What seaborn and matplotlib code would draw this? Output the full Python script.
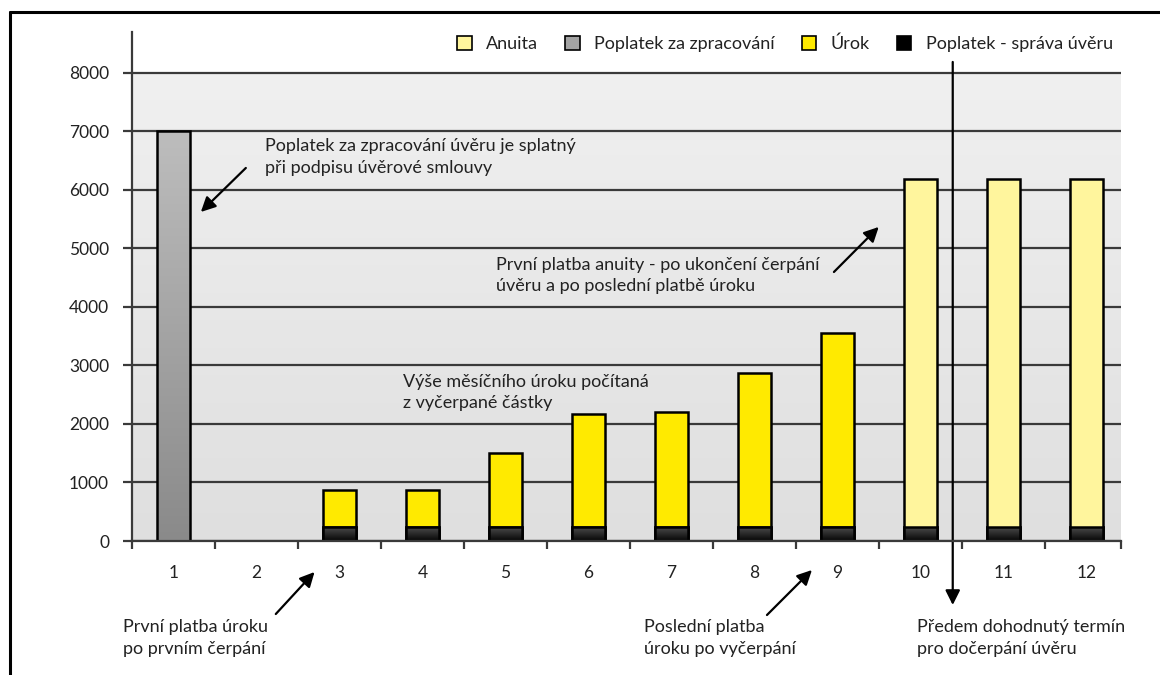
import numpy as np
import pandas as pd
import matplotlib
matplotlib.use("Agg")
import matplotlib.pyplot as plt
import seaborn as sns
from matplotlib.patches import Patch
from matplotlib.lines import Line2D
from matplotlib.colors import LinearSegmentedColormap

# --- data -------------------------------------------------------------
mesice = list(range(1, 13))
poplatek_zpracovani = [7000, 0, 0, 0, 0, 0, 0, 0, 0, 0, 0, 0]
poplatek_sprava = [0, 0, 240, 240, 240, 240, 240, 240, 240, 240, 240, 240]
urok = [0, 0, 630, 630, 1260, 1930, 1960, 2630, 3310, 0, 0, 0]
anuita = [0, 0, 0, 0, 0, 0, 0, 0, 0, 5940, 5940, 5940]
y_ticks = [0, 1000, 2000, 3000, 4000, 5000, 6000, 7000, 8000]
legend_labels = ["Anuita", "Poplatek za zpracování", "Úrok", "Poplatek - správa úvěru"]

# --- style ------------------------------------------------------------
sns.set_theme(style="white")
plt.rcParams["font.family"] = ["Lato", "DejaVu Sans"]
TXT = "#222222"
LINE = "#3a3a3a"
C_ANUITA = "#fff59d"
C_UROK = "#ffea00"
C_GRAY_TOP, C_GRAY_BOT = "#bdbdbd", "#8a8a8a"
C_BLACK_TOP, C_BLACK_BOT = "#505050", "#050505"
FS = 13
TICK_FS = 12.5

fig = plt.figure(figsize=(11.6, 6.75), dpi=100)
ax = fig.add_axes([132 / 1160, 1 - 541 / 675, (1121 - 132) / 1160, (541 - 32) / 675])

df = pd.DataFrame({
    "mesic": mesice,
    "zpracovani": poplatek_zpracovani,
    "sprava": poplatek_sprava,
    "urok": urok,
    "anuita": anuita,
})
df["urok_total"] = df["urok"] + df["sprava"]
df["anuita_total"] = df["anuita"] + df["sprava"]

BAR_W = 0.4
EDGE = dict(edgecolor="black", linewidth=1.8)


def bars(col, color):
    sub = df[df[col] > 0]
    n0 = len(ax.patches)
    sns.barplot(data=sub, x="mesic", y=col, native_scale=True, width=BAR_W,
                color=color, saturation=1, ax=ax, zorder=3, **EDGE)
    return ax.patches[n0:]


def gradient_fill(patches, top, bottom):
    cmap = LinearSegmentedColormap.from_list("g", [bottom, top])
    grad = np.linspace(0, 1, 256).reshape(-1, 1)
    for p in patches:
        x0, y0 = p.get_x(), p.get_y()
        w, h = p.get_width(), p.get_height()
        im = ax.imshow(grad, cmap=cmap, origin="lower", aspect="auto",
                       extent=[x0, x0 + w, y0, y0 + h], zorder=3.1,
                       interpolation="bilinear")
        im.set_clip_path(p)
        p.set_zorder(3.2)
        p.set_facecolor("none")


# background shading of the plotting region
bg = LinearSegmentedColormap.from_list("bg", ["#dfdfdf", "#f0f0f0"])
ax.imshow(np.linspace(0, 1, 256).reshape(-1, 1), cmap=bg, origin="lower",
          aspect="auto", extent=[0.5, 12.42, 0, 8000], zorder=0.1)

# stacked columns: totals first, management fee drawn over the lower part
gray = bars("zpracovani", C_GRAY_TOP)
gradient_fill(gray, C_GRAY_TOP, C_GRAY_BOT)
bars("urok_total", C_UROK)
bars("anuita_total", C_ANUITA)
black = bars("sprava", C_BLACK_BOT)
for p in black:
    p.set_zorder(3.3)
gradient_fill(black, C_BLACK_TOP, C_BLACK_BOT)
for p in black:
    p.set_zorder(3.4)

# --- axes -------------------------------------------------------------
ax.set_xlim(0.5, 12.42)
ax.set_ylim(0, 8700)
ax.set_xlabel("")
ax.set_ylabel("")
ax.set_facecolor("white")
for s in ["top", "right"]:
    ax.spines[s].set_visible(False)
for s in ["left", "bottom"]:
    ax.spines[s].set_color(LINE)
    ax.spines[s].set_linewidth(1.6)
    ax.spines[s].set_zorder(4)

ax.set_yticks(y_ticks)
ax.set_yticklabels([str(v) for v in y_ticks])
ax.yaxis.grid(True, color=LINE, linewidth=1.6)
ax.set_axisbelow(True)
ax.tick_params(axis="y", which="major", direction="out", length=6.5, width=1.6,
               color=LINE, pad=10, labelsize=TICK_FS, labelcolor=TXT, left=True)

ax.set_xticks(mesice)
ax.set_xticklabels([str(m) for m in mesice])
ax.set_xticks([m + 0.5 for m in [0] + mesice[:-1]] + [12.42], minor=True)
ax.tick_params(axis="x", which="major", length=0, pad=17, labelsize=TICK_FS,
               labelcolor=TXT, bottom=True)
ax.tick_params(axis="x", which="minor", direction="out", length=6, width=1.6,
               color=LINE, bottom=True)
ax.xaxis.grid(False)

# --- legend -----------------------------------------------------------
handles = [
    Patch(facecolor=C_ANUITA, edgecolor="black", linewidth=1.2),
    Patch(facecolor="#a3a3a3", edgecolor="black", linewidth=1.2),
    Patch(facecolor=C_UROK, edgecolor="black", linewidth=1.2),
    Patch(facecolor="black", edgecolor="black", linewidth=1.2),
]
fig.legend(handles, legend_labels, loc="center right", ncol=4, frameon=False,
           bbox_to_anchor=(1120 / 1160, 1 - 44 / 675), fontsize=FS,
           handlelength=0.8, handleheight=0.8, handletextpad=0.8,
           columnspacing=1.5, labelcolor=TXT, borderaxespad=0)

# --- annotations ------------------------------------------------------
arrow = dict(arrowstyle="-|>", color="black", lw=1.6, mutation_scale=22,
             shrinkA=0, shrinkB=0)
tk = dict(fontsize=FS, color=TXT, ha="left", va="top", linespacing=1.4,
          annotation_clip=False)

ax.annotate("Poplatek za zpracování úvěru je splatný\npři podpisu úvěrové smlouvy",
            xy=(2.10, 6880), **tk)
ax.annotate("", xy=(1.33, 5624), xytext=(1.872, 6376), arrowprops=arrow,
            annotation_clip=False)

ax.annotate("Výše měsíčního úroku počítaná\nz vyčerpané částky",
            xy=(3.761, 2860), **tk)

ax.annotate("První platba anuity - po ukončení čerpání\núvěru a po poslední platbě úroku",
            xy=(4.892, 4860), **tk)
ax.annotate("", xy=(9.50, 5368), xytext=(8.96, 4598), arrowprops=arrow,
            annotation_clip=False)

ax.annotate("První platba úroku\npo prvním čerpání", xy=(0.392, -1340), **tk)
ax.annotate("", xy=(2.70, -530), xytext=(2.233, -1248), arrowprops=arrow,
            annotation_clip=False)

ax.annotate("Poslední platba\núroku po vyčerpání", xy=(6.673, -1340), **tk)
ax.annotate("", xy=(8.695, -496), xytext=(8.153, -1265), arrowprops=arrow,
            annotation_clip=False)

ax.annotate("Předem dohodnutý termín\npro dočerpání úvěru", xy=(9.959, -1340), **tk)
ax.annotate("", xy=(10.392, -1094), xytext=(10.392, 8188), arrowprops=arrow,
            annotation_clip=False)

# --- outer frame (left and top edges) ---------------------------------
fx, fy = 9.5 / 1160, 1 - 11.5 / 675
fig.add_artist(Line2D([fx, fx], [0, fy], color="black", lw=2.2,
                      transform=fig.transFigure))
fig.add_artist(Line2D([fx, 1], [fy, fy], color="black", lw=2.2,
                      transform=fig.transFigure))

fig.savefig("out.png", dpi=100, facecolor="white")
